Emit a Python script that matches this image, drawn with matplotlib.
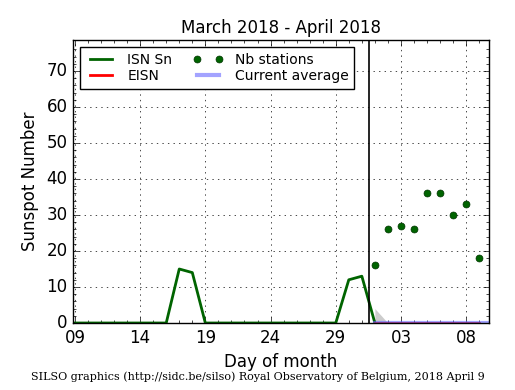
import matplotlib
matplotlib.use("Agg")
import matplotlib.pyplot as plt
import numpy as np

plt.style.use("classic")

# Days since March 9, 2018
isn_days = list(range(0, 24))
isn_values = [0, 0, 0, 0, 0, 0, 0, 0, 15, 14, 0, 0, 0, 0, 0, 0, 0, 0, 0, 0, 0, 12, 13, 0]

nb_days = [23, 24, 25, 26, 27, 28, 29, 30, 31]
nb_values = [16, 26, 27, 26, 36, 36, 30, 33, 18]

eisn_days = [23, 24, 25, 26, 27, 28, 29, 30, 31]
eisn_values = [0, 0, 0, 0, 0, 0, 0, 0, 0]
eisn_upper = [4, 0, 0, 0, 0, 0, 0, 0, 0]

avg_days = [23, 31.75]
avg_values = [0, 0]

tick_pos = [0, 5, 10, 15, 20, 25, 30]
tick_labels = ["09", "14", "19", "24", "29", "03", "08"]
month_boundary = 22.55

fig = plt.figure(figsize=(5.15, 3.9), dpi=100, facecolor="white")
ax = fig.add_axes([0.1417, 0.1718, 0.8078, 0.7256])

ax.fill_between(eisn_days[:2], [0, 0], eisn_upper[:2], color="#cccccc", linewidth=0)
l1, = ax.plot(isn_days, isn_values, color="#006400", linewidth=2, label="ISN Sn")
l2, = ax.plot(eisn_days, eisn_values, color="red", linewidth=2, label="EISN")
l3, = ax.plot(nb_days, nb_values, "o", color="#006400", markersize=5,
              markeredgecolor="#003300", label="Nb stations")
l4, = ax.plot(avg_days, avg_values, color="#6666ff", linewidth=3, alpha=0.6,
              label="Current average")
ax.axvline(month_boundary, color="black", linewidth=1.2)

ax.set_xlim(-0.15, 31.75)
ax.set_ylim(0, 78.6)
ax.set_xticks(tick_pos)
ax.set_xticklabels(tick_labels)
ax.set_xticks(np.arange(0, 32, 1), minor=True)
ax.set_yticks(np.arange(0, 71, 10))
ax.set_yticks(np.arange(0, 78, 2), minor=True)
ax.tick_params(labelsize=12)
ax.grid(True, which="major", linestyle=":", color="black")
ax.set_axisbelow(True)

ax.set_title("March 2018 - April 2018", fontsize=12)
ax.set_xlabel("Day of month", fontsize=12)
ax.set_ylabel("Sunspot Number", fontsize=12)

leg = ax.legend(handles=[l1, l2, l3, l4], loc="upper left", ncol=2,
                fontsize=10, numpoints=2, handlelength=2.2,
                borderaxespad=0.5, columnspacing=1.5, labelspacing=0.2)

fig.text(0.5, 0.02, "SILSO graphics (http://sidc.be/silso) Royal Observatory of Belgium, 2018 April 9",
         ha="center", va="bottom", fontsize=8, family="DejaVu Serif")

fig.savefig("out.png", dpi=100, facecolor="white")
